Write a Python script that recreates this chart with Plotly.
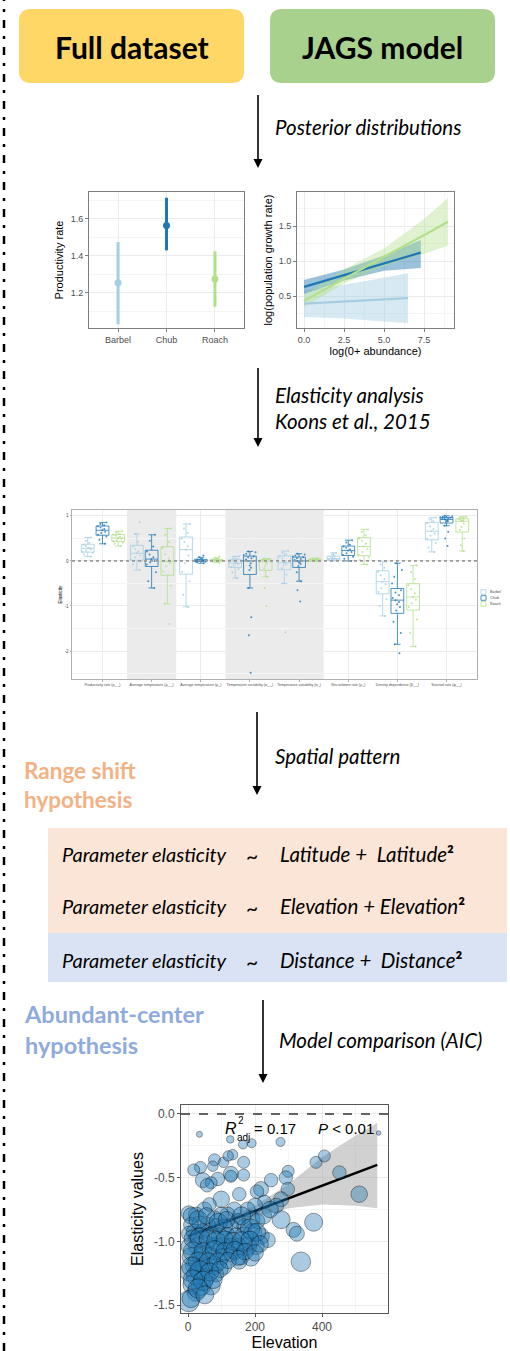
import plotly.graph_objects as go

W, H = 510, 1351


def X(p):
    return p / W


def Y(p):
    return 1 - p / H


# ---------------- data ----------------
species = ["Barbel", "Chub", "Roach"]
sp_colors = ["#A6CEE3", "#1F78B4", "#B2DF8A"]

# productivity rate (posterior mean and interval)
prod_mean = [1.255, 1.565, 1.275]
prod_low = [1.03, 1.43, 1.125]
prod_high = [1.475, 1.715, 1.425]

# log(population growth rate) vs log(0+ abundance)
barbel_x = [0.0, 2.5, 5.0, 6.5]
barbel_fit = [0.39, 0.42, 0.45, 0.47]
barbel_lo = [0.20, 0.18, 0.14, 0.11]
barbel_hi = [0.58, 0.66, 0.76, 0.83]
chub_x = [0.0, 2.5, 5.0, 7.3]
chub_fit = [0.63, 0.80, 0.97, 1.12]
chub_lo = [0.53, 0.72, 0.86, 0.90]
chub_hi = [0.73, 0.88, 1.08, 1.30]
roach_x = [0.0, 2.5, 5.0, 7.5, 9.0]
roach_fit = [0.43, 0.75, 1.06, 1.37, 1.56]
roach_lo = [0.34, 0.68, 0.92, 1.10, 1.22]
roach_hi = [0.52, 0.88, 1.18, 1.60, 1.90]

# elasticity analysis
el_cats = [
    "Productivity rate (ρ<sub>j,t−1</sub>)",
    "Average temperature (μ<sub>j,t−1</sub>)",
    "Average temperature (μ<sub>j,t</sub>)",
    "Temperature variability (σ<sub>j,t−1</sub>)",
    "Temperature variability (σ<sub>j,t</sub>)",
    "Recruitment rate (ρ<sub>j,t</sub>)",
    "Density dependence (β<sub>j,t−1</sub>)",
    "Survival rate (φ<sub>j,t−1</sub>)",
]
el_barbel = [
    [0.10, 0.14, 0.18, 0.20, 0.23, 0.26, 0.28, 0.30, 0.33, 0.36, 0.40, 0.45, 0.52],
    [-0.20, -0.08, 0.00, 0.02, 0.08, 0.12, 0.17, 0.21, 0.26, 0.32, 0.42, 0.60, 0.86],
    [-1.02, -0.75, -0.45, -0.24, -0.05, 0.12, 0.25, 0.33, 0.42, 0.50, 0.62, 0.72, 0.82],
    [-0.38, -0.25, -0.18, -0.13, -0.10, -0.07, -0.05, -0.03, 0.00, 0.02, 0.04, 0.06, 0.10],
    [-1.58, -0.50, -0.30, -0.16, -0.10, -0.07, -0.04, 0.00, 0.05, 0.10, 0.14, 0.18, 0.22],
    [0.00, 0.01, 0.015, 0.02, 0.03, 0.04, 0.05, 0.06, 0.08, 0.10, 0.12, 0.15, 0.18],
    [-1.22, -1.00, -0.85, -0.69, -0.60, -0.52, -0.46, -0.40, -0.32, -0.24, -0.15, -0.08, -0.02],
    [0.20, 0.30, 0.40, 0.49, 0.56, 0.61, 0.66, 0.71, 0.77, 0.84, 0.88, 0.92, 0.96],
]
el_chub = [
    [0.38, 0.47, 0.54, 0.58, 0.62, 0.65, 0.68, 0.71, 0.74, 0.77, 0.79, 0.82, 0.85],
    [-0.60, -0.45, -0.25, -0.08, -0.03, 0.00, 0.04, 0.08, 0.14, 0.21, 0.32, 0.45, 0.58],
    [-0.05, -0.03, -0.02, -0.01, 0.00, 0.005, 0.01, 0.015, 0.02, 0.03, 0.05, 0.08, 0.12],
    [-2.48, -1.65, -1.25, -0.60, -0.20, -0.15, -0.10, -0.05, 0.00, 0.03, 0.06, 0.08, 0.10, 0.13, 0.16, 0.19, 0.21],
    [-0.90, -0.65, -0.45, -0.25, -0.11, -0.07, -0.04, -0.02, 0.00, 0.02, 0.04, 0.06, 0.08, 0.10, 0.12, 0.14, 0.16],
    [0.00, 0.05, 0.09, 0.13, 0.17, 0.20, 0.23, 0.26, 0.29, 0.32, 0.36, 0.41, 0.46],
    [-2.05, -1.85, -1.60, -1.35, -1.10, -1.02, -0.96, -0.91, -0.87, -0.82, -0.76, -0.70, -0.65, -0.50, -0.35, -0.20, -0.05],
    [0.33, 0.50, 0.65, 0.78, 0.86, 0.88, 0.89, 0.90, 0.92, 0.93, 0.94, 0.95, 0.96, 0.97, 0.98, 0.99, 1.00],
]
el_roach = [
    [0.33, 0.38, 0.41, 0.44, 0.46, 0.49, 0.51, 0.53, 0.56, 0.58, 0.60, 0.63, 0.66],
    [-1.40, -0.95, -0.55, -0.24, -0.12, -0.05, -0.01, 0.05, 0.15, 0.28, 0.42, 0.58, 0.72],
    [-0.04, -0.02, -0.01, 0.00, 0.005, 0.01, 0.015, 0.02, 0.025, 0.03, 0.05, 0.07, 0.10],
    [-1.00, -0.60, -0.35, -0.16, -0.10, -0.05, -0.02, 0.00, 0.01, 0.02, 0.03, 0.04, 0.05],
    [-0.01, 0.00, 0.00, 0.00, 0.01, 0.015, 0.02, 0.025, 0.03, 0.04, 0.045, 0.05, 0.06],
    [-0.08, 0.02, 0.08, 0.13, 0.20, 0.27, 0.32, 0.38, 0.44, 0.50, 0.57, 0.64, 0.70],
    [-1.90, -1.60, -1.30, -1.02, -0.94, -0.86, -0.80, -0.72, -0.63, -0.54, -0.40, -0.25, -0.10],
    [0.22, 0.35, 0.50, 0.69, 0.76, 0.83, 0.88, 0.90, 0.91, 0.93, 0.95, 0.97, 0.98],
]
el_species = [el_barbel, el_chub, el_roach]

# elasticity vs elevation (model comparison)
elev = [34, 126, 164, 190, 276, 569, 79, 106, 133, 120, 166, 74, 37, 17, 382, 407, 452, 511,
        299, 292, 128, 128, 166, 44, 89, 69, 57, 248, 218, 206, 153, 99, 298, 278, 263, 228,
        200, 278, 315, 325, 375, 337, 2, 24, 49, 64, 138, 118, 99, 79, 178, 188, 207, 168,
        149, 128, 108, 84, 59, 34, 9, 3, 19, 44, 69, 94, 118, 143, 168, 193, 218, 238, 203,
        178, 153, 128, 103, 79, 54, 29, 4, 9, 39, 69, 99, 128, 158, 188, 153, 19, 49, 79,
        108, 2, 24, 54, 84, 14, 39, 69, 24, 2, 9,
        10, 30, 55, 90, 115, 160, 185, 205, 225, 245, 15, 35, 60, 85, 110, 135, 160, 185, 215,
        15, 45, 80, 110, 140, 170, 200, 30, 60, 90, 120, 150, 10, 35, 65, 95, 15, 45, 75, 30, 50]
elast = [-0.16, -0.20, -0.24, -0.23, -0.22, -0.15, -0.36, -0.38, -0.32, -0.33, -0.38, -0.41,
         -0.42, -0.44, -0.38, -0.33, -0.46, -0.63, -0.45, -0.50, -0.47, -0.49, -0.48, -0.52,
         -0.51, -0.54, -0.56, -0.52, -0.59, -0.61, -0.63, -0.67, -0.59, -0.67, -0.72, -0.69,
         -0.72, -0.83, -0.91, -0.94, -0.85, -1.16, -0.78, -0.79, -0.75, -0.71, -0.75, -0.79,
         -0.79, -0.82, -0.75, -0.83, -0.84, -0.88, -0.84, -0.88, -0.89, -0.88, -0.87, -0.86,
         -0.87, -0.94, -0.93, -0.92, -0.95, -0.96, -0.95, -0.96, -0.96, -0.93, -0.96, -0.99,
         -1.04, -1.04, -1.04, -1.04, -1.04, -1.04, -1.02, -1.04, -1.04, -1.12, -1.12, -1.12,
         -1.12, -1.10, -1.12, -1.13, -1.16, -1.19, -1.20, -1.19, -1.20, -1.24, -1.27, -1.28,
         -1.26, -1.34, -1.35, -1.35, -1.40, -1.47, -1.45,
         -0.80, -0.83, -0.80, -0.85, -0.83, -0.80, -0.90, -0.93, -0.80, -0.75, -0.98, -0.97,
         -0.98, -1.00, -0.99, -1.00, -1.00, -0.99, -1.02, -1.08, -1.08, -1.07, -1.08, -1.07,
         -1.08, -1.09, -1.16, -1.16, -1.16, -1.15, -1.13, -1.20, -1.23, -1.24, -1.22, -1.30,
         -1.31, -1.30, -1.37, -1.42]
abund = [4, 5, 6, 6, 6, 3, 8, 7, 7, 7, 8, 7, 8, 8, 8, 8, 9, 11, 8, 9, 10, 8, 8, 10, 9, 8, 9,
         9, 10, 9, 9, 11, 9, 10, 10, 9, 10, 12, 10, 10, 12, 13, 10, 10, 10, 9, 10, 10, 10, 10,
         10, 12, 10, 10, 10, 10, 11, 10, 10, 10, 10, 10, 11, 10, 11, 11, 10, 11, 12, 12, 11, 10,
         11, 12, 11, 11, 12, 12, 11, 12, 11, 12, 12, 12, 11, 10, 11, 11, 10, 12, 12, 12, 10, 12,
         13, 12, 10, 13, 13, 12, 12, 14, 12,
         11, 12, 11, 12, 11, 12, 13, 12, 11, 11, 12, 13, 12, 13, 12, 12, 13, 12, 11, 13, 12, 13,
         12, 12, 11, 11, 13, 12, 12, 11, 10, 13, 13, 12, 11, 13, 13, 12, 13, 12]
fit_x = [0, 565]
fit_y = [-0.96, -0.40]
band_x = [0, 100, 200, 300, 400, 500, 565]
band_lo = [-1.01, -0.90, -0.81, -0.74, -0.71, -0.72, -0.74]
band_hi = [-0.91, -0.83, -0.72, -0.55, -0.34, -0.17, -0.07]

# ---------------- figure ----------------
fig = go.Figure()
PF = "Liberation Sans"
FF = "Lato"
GRAY_TXT = "#4D4D4D"

# productivity plot
for i, s in enumerate(species):
    fig.add_trace(go.Scatter(
        x=[s], y=[prod_mean[i]], mode="markers",
        marker=dict(color=sp_colors[i], size=7),
        error_y=dict(type="data", symmetric=False,
                     array=[prod_high[i] - prod_mean[i]],
                     arrayminus=[prod_mean[i] - prod_low[i]],
                     color=sp_colors[i], thickness=3, width=0),
        xaxis="x", yaxis="y", showlegend=False, hoverinfo="skip"))

# growth plot
growth = [(barbel_x, barbel_fit, barbel_lo, barbel_hi, "rgba(166,206,227,0.45)"),
          (chub_x, chub_fit, chub_lo, chub_hi, "rgba(31,120,180,0.45)"),
          (roach_x, roach_fit, roach_lo, roach_hi, "rgba(178,223,138,0.4)")]
for gx, gf, gl, gh, fc in growth:
    fig.add_trace(go.Scatter(x=gx + gx[::-1], y=gh + gl[::-1], fill="toself",
                             fillcolor=fc, line=dict(width=0), mode="lines",
                             xaxis="x2", yaxis="y2", showlegend=False, hoverinfo="skip"))
for i, (gx, gf, gl, gh, fc) in enumerate(growth):
    fig.add_trace(go.Scatter(x=gx, y=gf, mode="lines",
                             line=dict(color=sp_colors[i], width=2.2),
                             xaxis="x2", yaxis="y2", showlegend=False, hoverinfo="skip"))

# elasticity boxes
offsets = [-0.3, 0.0, 0.32]
for i, s in enumerate(species):
    for k, vals in enumerate(el_species[i]):
        fig.add_trace(go.Box(
            x=[k + offsets[i]] * len(vals), y=vals, width=0.26,
            boxpoints="all", jitter=1.0, pointpos=0,
            marker=dict(color=sp_colors[i], size=2, opacity=0.8),
            line=dict(color=sp_colors[i], width=0.8),
            fillcolor="rgba(255,255,255,0)",
            xaxis="x3", yaxis="y3", showlegend=False, hoverinfo="skip"))

# elevation scatter: ribbon, fit line, then points
fig.add_trace(go.Scatter(x=band_x + band_x[::-1], y=band_hi + band_lo[::-1], fill="toself",
                         fillcolor="rgba(153,153,153,0.45)", line=dict(width=0), mode="lines",
                         xaxis="x4", yaxis="y4", showlegend=False, hoverinfo="skip"))
fig.add_trace(go.Scatter(x=fit_x, y=fit_y, mode="lines", line=dict(color="black", width=2.5),
                         xaxis="x4", yaxis="y4", showlegend=False, hoverinfo="skip"))
fig.add_trace(go.Scatter(x=elev, y=elast, mode="markers",
                         marker=dict(size=[a * 1.5 for a in abund], color="rgba(31,120,180,0.55)",
                                     line=dict(color="rgba(0,0,0,0.8)", width=0.7)),
                         xaxis="x4", yaxis="y4", showlegend=False, hoverinfo="skip"))


def axis_style(**kw):
    d = dict(showline=True, mirror=True, linecolor="#7F7F7F", linewidth=1,
             showgrid=True, gridcolor="#EBEBEB", gridwidth=1, zeroline=False,
             ticks="outside", ticklen=3, tickcolor="#7F7F7F",
             tickfont=dict(family=PF, size=9, color=GRAY_TXT))
    d.update(kw)
    return d


minor_grid = dict(showgrid=True, gridcolor="#F5F5F5", gridwidth=0.6, ticks="")

layout = dict(
    width=W, height=H, margin=dict(l=0, r=0, t=0, b=0), autosize=False,
    paper_bgcolor="white", plot_bgcolor="white", showlegend=False,
    xaxis=axis_style(domain=[X(89), X(244)], anchor="y", range=[-0.6, 2.6]),
    yaxis=axis_style(domain=[Y(328), Y(192)], anchor="x", range=[1.01, 1.746],
                     tickvals=[1.2, 1.4, 1.6], ticktext=["1.2", "1.4", "1.6"],
                     minor=dict(tickvals=[1.1, 1.3, 1.5, 1.7], **minor_grid),
                     title=dict(text="Productivity rate", standoff=4,
                                font=dict(family=PF, size=11, color="black"))),
    xaxis2=axis_style(domain=[X(297), X(454)], anchor="y2", range=[-0.44, 9.375],
                      tickvals=[0, 2.5, 5, 7.5], ticktext=["0.0", "2.5", "5.0", "7.5"],
                      minor=dict(tickvals=[1.25, 3.75, 6.25, 8.75], **minor_grid),
                      title=dict(text="log(0+ abundance)", standoff=2,
                                 font=dict(family=PF, size=11, color="black"))),
    yaxis2=axis_style(domain=[Y(328), Y(192)], anchor="x2", range=[0.043, 1.986],
                      tickvals=[0.5, 1.0, 1.5], ticktext=["0.5", "1.0", "1.5"],
                      minor=dict(tickvals=[0.25, 0.75, 1.25, 1.75], **minor_grid),
                      title=dict(text="log(population growth rate)", standoff=3,
                                 font=dict(family=PF, size=11, color="black"))),
    xaxis3=axis_style(domain=[X(72), X(477)], anchor="y3", range=[-0.62, 7.62],
                      tickvals=list(range(8)), ticktext=el_cats, ticklen=1.5, tickangle=0,
                      linecolor="#B0B0B0", tickcolor="#B0B0B0", gridwidth=0.6,
                      tickfont=dict(family=PF, size=3.6, color=GRAY_TXT)),
    yaxis3=axis_style(domain=[Y(679), Y(510)], anchor="x3", range=[-2.62, 1.13],
                      tickvals=[-2, -1, 0, 1], ticktext=["-2", "-1", "0", "1"], ticklen=1.5,
                      linecolor="#B0B0B0", tickcolor="#B0B0B0", gridwidth=0.6,
                      minor=dict(tickvals=[-2.5, -1.5, -0.5, 0.5], showgrid=True,
                                 gridcolor="#F5F5F5", gridwidth=0.4, ticks=""),
                      tickfont=dict(family=PF, size=4.5, color=GRAY_TXT),
                      title=dict(text="Elasticity", standoff=2,
                                 font=dict(family=PF, size=4.5, color="black"))),
    xaxis4=axis_style(domain=[X(181), X(388)], anchor="y4", range=[-21, 597],
                      tickvals=[0, 200, 400], ticktext=["0", "200", "400"],
                      minor=dict(tickvals=[100, 300, 500], **minor_grid),
                      linecolor="#555555", tickcolor="#555555",
                      tickfont=dict(family=PF, size=12, color=GRAY_TXT),
                      title=dict(text="Elevation", standoff=0,
                                 font=dict(family=PF, size=16, color="black"))),
    yaxis4=axis_style(domain=[Y(1313), Y(1105)], anchor="x4", range=[-1.5625, 0.07],
                      tickvals=[0, -0.5, -1.0, -1.5], ticktext=["0.0", "-0.5", "-1.0", "-1.5"],
                      minor=dict(tickvals=[-1.25, -0.75, -0.25], **minor_grid),
                      linecolor="#555555", tickcolor="#555555",
                      tickfont=dict(family=PF, size=12, color=GRAY_TXT),
                      title=dict(text="Elasticity values", standoff=6,
                                 font=dict(family=PF, size=16, color="black"))),
)
fig.update_layout(**layout)


def rrect(x0, y0, x1, y1, r):
    return (f"M {X(x0 + r)},{Y(y0)} L {X(x1 - r)},{Y(y0)} Q {X(x1)},{Y(y0)} {X(x1)},{Y(y0 + r)} "
            f"L {X(x1)},{Y(y1 - r)} Q {X(x1)},{Y(y1)} {X(x1 - r)},{Y(y1)} "
            f"L {X(x0 + r)},{Y(y1)} Q {X(x0)},{Y(y1)} {X(x0)},{Y(y1 - r)} "
            f"L {X(x0)},{Y(y0 + r)} Q {X(x0)},{Y(y0)} {X(x0 + r)},{Y(y0)} Z")


shapes = []
# left dash-dot border
shapes.append(dict(type="line", xref="paper", yref="paper", x0=X(4), x1=X(4), y0=0, y1=1,
                   line=dict(color="black", width=2.5, dash="8px,8px,3px,8px")))
# top boxes
shapes.append(dict(type="path", xref="paper", yref="paper", path=rrect(19, 9, 244, 83, 12),
                   fillcolor="#FED766", line=dict(width=0), layer="below"))
shapes.append(dict(type="path", xref="paper", yref="paper", path=rrect(270, 9, 495, 83, 12),
                   fillcolor="#A9D18E", line=dict(width=0), layer="below"))
# hypothesis boxes
shapes.append(dict(type="rect", xref="paper", yref="paper", x0=X(48), x1=X(507),
                   y0=Y(933), y1=Y(828), fillcolor="#FBE5D6", line=dict(width=0), layer="below"))
shapes.append(dict(type="rect", xref="paper", yref="paper", x0=X(48), x1=X(507),
                   y0=Y(982), y1=Y(933), fillcolor="#DAE3F3", line=dict(width=0), layer="below"))
# shaded columns in elasticity plot
for a, b in [(0.5, 1.5), (2.5, 4.5)]:
    shapes.append(dict(type="rect", xref="x3", yref="y3", x0=a, x1=b, y0=-2.62, y1=1.13,
                       fillcolor="#EBEBEB", line=dict(width=0), layer="below"))
shapes.append(dict(type="line", xref="x3", yref="y3", x0=-0.62, x1=7.62, y0=0, y1=0,
                   line=dict(color="#9A9A9A", width=1.8, dash="dot"), layer="above"))
# dashed zero line in elevation plot
shapes.append(dict(type="line", xref="x4", yref="y4", x0=-21, x1=597, y0=0, y1=0,
                   line=dict(color="#333333", width=1.5, dash="dash"), layer="above"))
# elasticity legend keys
leg_y = [592, 598, 604]
for i, c in enumerate(sp_colors):
    yc = leg_y[i]
    shapes.append(dict(type="rect", xref="paper", yref="paper", x0=X(481), x1=X(486),
                       y0=Y(yc + 2.3), y1=Y(yc - 2.3), fillcolor="white",
                       line=dict(color=c, width=0.8)))


# flow arrows: shaft + filled head
def arrow(x, y_top, y_tip):
    shapes.append(dict(type="line", xref="paper", yref="paper", x0=X(x), x1=X(x),
                       y0=Y(y_top), y1=Y(y_tip - 8), line=dict(color="black", width=1.6)))
    shapes.append(dict(type="path", xref="paper", yref="paper",
                       path=f"M {X(x - 4.5)},{Y(y_tip - 9)} L {X(x + 4.5)},{Y(y_tip - 9)} "
                            f"L {X(x)},{Y(y_tip)} Z",
                       fillcolor="black", line=dict(width=0)))


arrow(258, 95, 168)
arrow(258, 368, 447)
arrow(257, 712, 795)
arrow(263, 1000, 1083)

ann = []


def text(x, y, t, size, color="black", xanchor="left", family=FF):
    ann.append(dict(x=X(x), y=Y(y), xref="paper", yref="paper", text=t, showarrow=False,
                    xanchor=xanchor, yanchor="middle", align="left",
                    font=dict(family=family, size=size, color=color)))


text(131.5, 47, "<b>Full dataset</b>", 30, xanchor="center")
text(382.5, 47, "<b>JAGS model</b>", 30, xanchor="center")

text(273, 127, "<i>Posterior distributions</i>", 20.5)
text(273, 395, "<i>Elasticity analysis</i>", 20.5)
text(273, 421, "<i>Koons et al., 2015</i>", 20.5)
text(273, 756, "<i>Spatial pattern</i>", 20.5)
text(277, 1040, "<i>Model comparison (AIC)</i>", 20.5)

text(22, 785, "<b>Range shift<br>hypothesis</b>", 22.5, color="#F4B183")
text(22, 1029, "<b>Abundant-center<br>hypothesis</b>", 23.5, color="#8FAADC")

formulas = ["Latitude +  Latitude", "Elevation + Elevation", "Distance +  Distance"]
for yy, f in zip([854, 906, 960], formulas):
    text(60, yy, "<i>Parameter elasticity</i>", 20)
    text(252, yy + 1, "~", 21, xanchor="center")
    text(278, yy, f"<i>{f}</i><b>²</b>", 20.5)

# elasticity legend text
for i, s in enumerate(species):
    text(488, leg_y[i], s, 3.8, color=GRAY_TXT, family=PF)

# R2 annotation
text(231, 1128, "<i>R</i>", 16, xanchor="center", family=PF)
text(241, 1120, "2", 10, xanchor="center", family=PF)
text(243, 1137, "adj", 10, xanchor="center", family=PF)
text(252, 1128, "= 0.17", 15, family=PF)
text(316, 1128, "<i>P</i> < 0.01", 15, family=PF)

fig.update_layout(shapes=shapes, annotations=ann)
fig.write_html("out.html", config={"displayModeBar": False},
               post_script="document.body.style.margin='0';")
